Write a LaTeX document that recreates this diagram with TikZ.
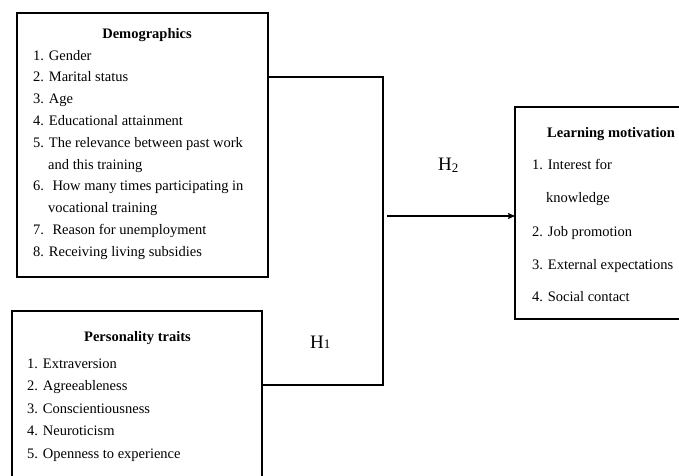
\documentclass[tikz,border=0pt]{standalone}
\usepackage{fontspec}
\setmainfont{Liberation Serif}
\usetikzlibrary{arrows.meta}
\begin{document}
\begin{tikzpicture}[x=1pt,y=-1pt,
  box/.style={draw,line width=1.2pt,inner sep=0pt,outer sep=0pt,anchor=north west},
  txt/.style={anchor=base west,inner sep=0pt,font=\fontsize{14.5}{17}\selectfont},
  ttl/.style={anchor=base,inner sep=0pt,font=\fontsize{14.5}{17}\selectfont\bfseries},
  ttlw/.style={anchor=base west,inner sep=0pt,font=\fontsize{14.5}{17}\selectfont\bfseries},
  conn/.style={line width=1.1pt},
  hyp/.style={anchor=base west,inner sep=0pt,font=\fontsize{19}{22}\selectfont}]
\useasboundingbox (0,0) rectangle (679,475);
% boxes
\node[box,minimum width=251pt,minimum height=264pt] (demo) at (17,13) {};
\node[box,minimum width=250pt,minimum height=200pt] (pers) at (12,311) {};
\node[box,minimum width=200pt,minimum height=212pt] (learn) at (515,107) {};
% Demographics text
\node[ttl] (d0) at (147,38) {Demographics};
\node[txt] (d1) at (33,60) {1. Gender};
\node[txt] (d2) at (33,81.8) {2. Marital status};
\node[txt] (d3) at (33,103.6) {3. Age};
\node[txt] (d4) at (33,125.4) {4. Educational attainment};
\node[txt] (d5) at (33,147.2) {5. The relevance between past work};
\node[txt] (d6) at (48,169) {and this training};
\node[txt] (d7) at (33,190.8) {6.~ How many times participating in};
\node[txt] (d8) at (48,212.6) {vocational training};
\node[txt] (d9) at (33,234.4) {7.~ Reason for unemployment};
\node[txt] (d10) at (33,256.2) {8. Receiving living subsidies};
% Personality text
\node[ttl] (p0) at (137.5,341) {Personality traits};
\node[txt] (p1) at (27,368) {1. Extraversion};
\node[txt] (p2) at (27,390.5) {2. Agreeableness};
\node[txt] (p3) at (27,413) {3. Conscientiousness};
\node[txt] (p4) at (27,435.5) {4. Neuroticism};
\node[txt] (p5) at (27,458) {5. Openness to experience};
% Learning motivation text
\node[ttlw] (l0) at (547,137) {Learning motivation};
\node[txt] (l1) at (532,169) {1. Interest for};
\node[txt] (l2) at (546,202) {knowledge};
\node[txt] (l3) at (532,236) {2. Job promotion};
\node[txt] (l4) at (532,269) {3. External expectations};
\node[txt] (l5) at (532,301) {4. Social contact};
% hypothesis labels
\node[hyp] (h2) at (438,170) {H\raisebox{-2.5pt}{\fontsize{13}{13}\selectfont 2}};
\node[hyp] (h1) at (310,348) {H\fontsize{13}{13}\selectfont 1};
% connectors
\coordinate (j1) at (383,77);
\coordinate (j2) at (383,385);
\coordinate (a0) at (387,216);
\draw[conn] (demo.east |- j1) -- (j1) -- (j2) -- (pers.east |- j2);
\draw[conn,-{Stealth[length=7pt,width=6pt,inset=1pt]}] (a0) -- (learn.west |- a0);
\end{tikzpicture}
\end{document}
